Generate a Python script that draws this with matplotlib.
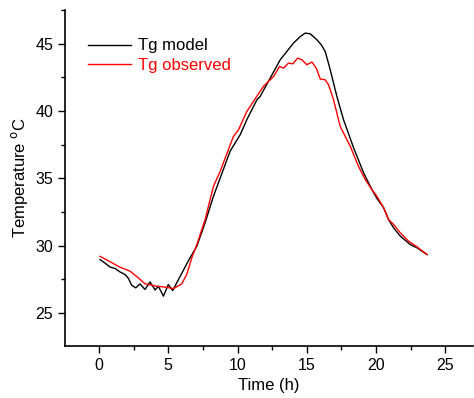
import matplotlib
matplotlib.use("Agg")
import matplotlib.pyplot as plt
from matplotlib.ticker import MultipleLocator

plt.rcParams['font.family'] = ['Liberation Sans', 'DejaVu Sans']

# time (h) and temperature
t_model = [0.07, 0.43, 0.8, 1.16, 1.5, 1.88, 2.1, 2.36, 2.65, 2.96, 3.32, 3.68,
           4.05, 4.28, 4.65, 5.0, 5.32, 5.85, 6.52, 7.06, 7.66, 8.26, 9.46, 10.19,
           10.67, 11.4, 11.63, 13.08, 14.04, 14.5, 14.88, 15.25, 15.73, 16.05,
           16.33, 16.69, 17.17, 17.65, 18.38, 19.1, 19.7, 20.06, 20.55, 20.9,
           21.27, 21.75, 22.47, 22.96, 23.68]
tg_model = [28.96, 28.7, 28.4, 28.3, 28.05, 27.85, 27.6, 27.05, 26.86, 27.15,
            26.74, 27.3, 26.7, 26.98, 26.24, 27.1, 26.66, 27.7, 29.0, 29.95,
            31.7, 33.66, 37.0, 38.23, 39.35, 40.83, 41.07, 43.8, 45.04, 45.5,
            45.78, 45.73, 45.28, 44.9, 44.41, 43.06, 41.08, 39.35, 37.25, 35.4,
            34.15, 33.5, 32.8, 31.93, 31.31, 30.7, 30.07, 29.83, 29.33]

t_obs = [0.07, 0.8, 1.5, 2.24, 2.84, 3.32, 4.17, 4.89, 5.37, 5.97, 6.33, 6.7,
         7.06, 7.66, 8.26, 8.74, 9.7, 10.07, 10.67, 11.27, 11.87, 12.6, 13.03,
         13.32, 13.68, 14.0, 14.33, 14.65, 15.0, 15.37, 15.68, 15.97, 16.33,
         16.57, 16.93, 17.41, 18.14, 18.73, 19.22, 19.7, 20.06, 20.55, 20.9,
         21.27, 21.75, 22.35, 22.96, 23.68]
tg_obs = [29.2, 28.8, 28.4, 28.1, 27.6, 27.16, 26.98, 26.9, 26.8, 27.15, 27.85,
          29.1, 30.07, 31.93, 34.4, 35.5, 38.1, 38.6, 39.96, 40.9, 41.82, 42.56,
          43.3, 43.18, 43.55, 43.5, 43.92, 43.8, 43.43, 43.63, 43.18, 42.37,
          42.31, 41.94, 40.83, 38.85, 37.37, 35.88, 34.9, 34.15, 33.66, 32.8,
          31.93, 31.56, 30.94, 30.32, 29.9, 29.33]

fig = plt.figure(figsize=(4.74, 3.98), dpi=100)
ax = fig.add_axes([0.137, 0.131, 0.861, 0.844])

ax.plot(t_model, tg_model, color='black', lw=1.0, label='Tg model')
ax.plot(t_obs, tg_obs, color='red', lw=1.0, label='Tg observed')

ax.set_xlim(-2.46, 27.0)
ax.set_ylim(22.55, 47.5)
ax.xaxis.set_major_locator(MultipleLocator(5))
ax.xaxis.set_minor_locator(MultipleLocator(2.5))
ax.yaxis.set_major_locator(MultipleLocator(5))
ax.yaxis.set_minor_locator(MultipleLocator(2.5))
ax.tick_params(which='major', direction='out', length=5, width=1, labelsize=11.5)
ax.tick_params(which='minor', direction='out', length=3, width=1)

for s in ['top', 'right']:
    ax.spines[s].set_visible(False)
for s in ['left', 'bottom']:
    ax.spines[s].set_linewidth(1.2)

ax.set_xlabel('Time (h)', fontsize=12)
ax.set_ylabel('Temperature $^{\\mathrm{o}}$C', fontsize=12)

leg = ax.legend(loc='upper left', bbox_to_anchor=(0.02, 0.96), frameon=False,
                fontsize=12, handlelength=2.6, handletextpad=0.4, labelspacing=0.25)
for txt, line in zip(leg.get_texts(), leg.get_lines()):
    txt.set_color(line.get_color())

fig.savefig('out.png', dpi=100)
